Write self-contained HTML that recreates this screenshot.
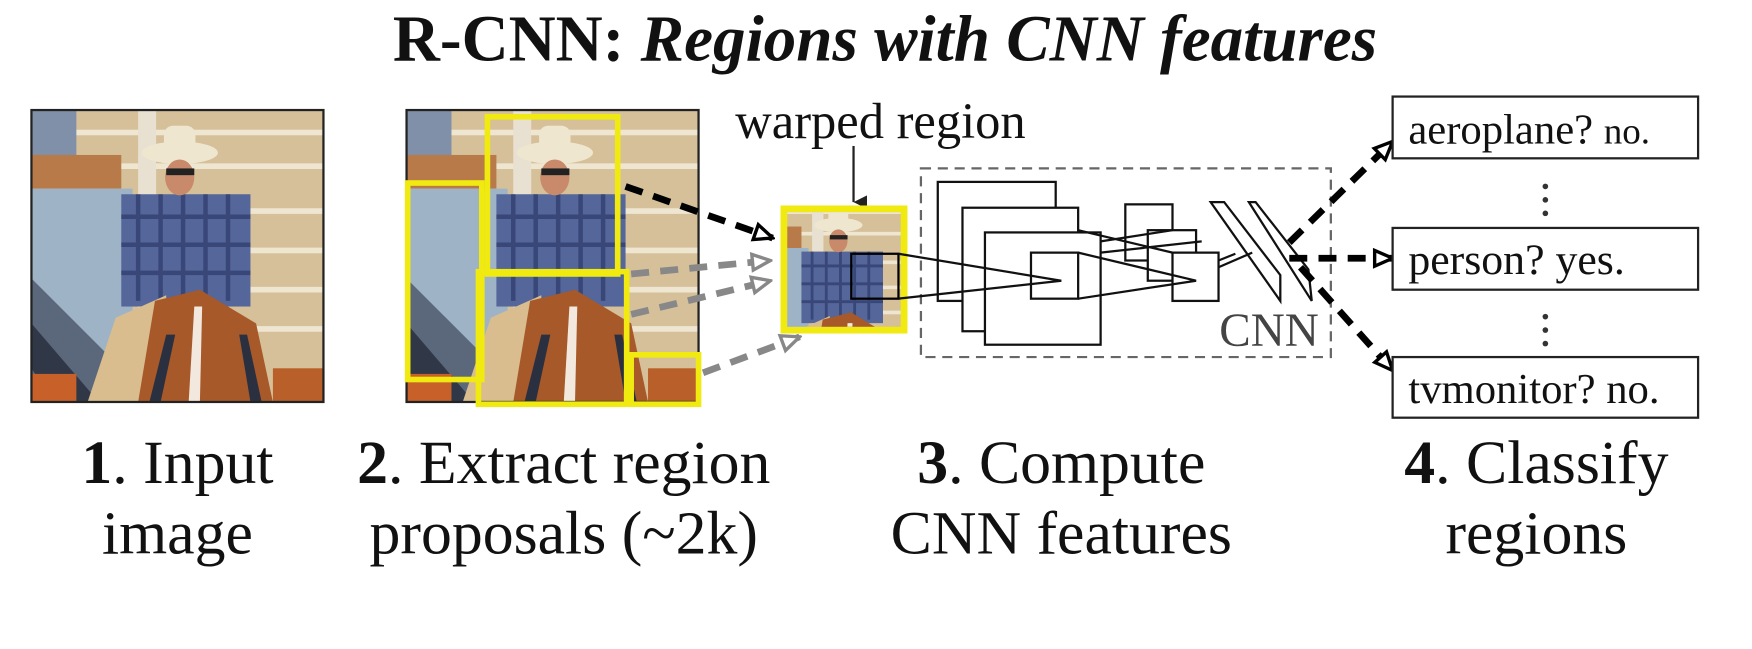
<!DOCTYPE html>
<html><head><meta charset="utf-8"><style>
html,body{margin:0;padding:0;background:#fff;}
svg{display:block;}
text{font-family:"Liberation Serif",serif;fill:#111;}
</style></head><body>
<svg width="1752" height="649" viewBox="0 0 1560 578" preserveAspectRatio="none" xmlns="http://www.w3.org/2000/svg">
<defs>
<symbol id="photo" viewBox="0 0 260 260" preserveAspectRatio="none">
  <rect width="260" height="260" fill="#d6c09a"/>
  <g stroke="#efe6d2" stroke-width="5">
    <line x1="0" y1="20" x2="260" y2="20"/><line x1="0" y1="50" x2="260" y2="50"/>
    <line x1="150" y1="90" x2="260" y2="90"/><line x1="150" y1="125" x2="260" y2="125"/>
    <line x1="150" y1="160" x2="260" y2="160"/><line x1="150" y1="195" x2="260" y2="195"/>
  </g>
  <rect x="0" y="0" width="40" height="50" fill="#8090a8"/>
  <rect x="0" y="40" width="80" height="30" fill="#b87a48"/>
  <rect x="95" y="0" width="16" height="260" fill="#e8e0d0"/>
  <rect x="0" y="70" width="90" height="190" fill="#9eb3c6"/>
  <path d="M0,150 L90,240 L90,260 L0,260 Z" fill="#4a5468" opacity="0.8"/>
  <path d="M0,190 L60,260 L20,260 L0,230 Z" fill="#303848"/>
  <rect x="80" y="75" width="115" height="100" fill="#55669a"/>
  <g stroke="#2c3a6a" stroke-width="4" opacity="0.7">
    <line x1="95" y1="75" x2="95" y2="170"/><line x1="115" y1="75" x2="115" y2="170"/>
    <line x1="135" y1="75" x2="135" y2="170"/><line x1="155" y1="75" x2="155" y2="170"/>
    <line x1="175" y1="75" x2="175" y2="170"/>
    <line x1="80" y1="95" x2="195" y2="95"/><line x1="80" y1="120" x2="195" y2="120"/>
    <line x1="80" y1="145" x2="195" y2="145"/>
  </g>
  <ellipse cx="132" cy="38" rx="34" ry="10" fill="#efe6d0"/>
  <rect x="118" y="14" width="28" height="24" rx="8" fill="#efe6d0"/>
  <ellipse cx="132" cy="60" rx="13" ry="16" fill="#c88a6a"/>
  <rect x="120" y="52" width="25" height="6" fill="#222"/>
  <path d="M50,260 L75,185 L120,165 L120,260 Z" fill="#d9bd8f"/>
  <path d="M95,260 L110,170 L150,160 L200,190 L215,260 Z" fill="#a7592a"/>
  <path d="M145,175 L152,175 L150,260 L140,260 Z" fill="#f2e8de"/>
  <path d="M105,260 L120,200 L128,200 L115,260 Z" fill="#2a3040"/>
  <path d="M195,260 L185,200 L192,200 L205,260 Z" fill="#2a3040"/>
  <rect x="0" y="235" width="40" height="25" fill="#c8602a"/>
  <rect x="215" y="230" width="45" height="30" fill="#b9602a"/>
</symbol>
<marker id="ah" viewBox="0 0 20 20" refX="18" refY="10" markerWidth="20" markerHeight="20" markerUnits="userSpaceOnUse" orient="auto">
  <path d="M2,3 L18,10 L2,17 Z" fill="#fff" stroke="#000" stroke-width="3"/>
</marker>
<marker id="ahg" viewBox="0 0 20 20" refX="18" refY="10" markerWidth="20" markerHeight="20" markerUnits="userSpaceOnUse" orient="auto">
  <path d="M2,3 L18,10 L2,17 Z" fill="#fff" stroke="#888" stroke-width="3"/>
</marker>
<marker id="ahs" viewBox="0 0 10 10" refX="5" refY="10" markerWidth="12" markerHeight="12" markerUnits="userSpaceOnUse" orient="auto-start-reverse">
  <path d="M0,0 L10,0 L5,10 Z" fill="#222"/>
</marker>
</defs>

<text x="788" y="54" font-size="58" font-weight="bold" text-anchor="middle">R-CNN: <tspan font-style="italic">Regions with CNN features</tspan></text>

<use href="#photo" x="28" y="98" width="260" height="260"/>
<rect x="28" y="98" width="260" height="260" fill="none" stroke="#222" stroke-width="2"/>

<use href="#photo" x="362" y="98" width="260" height="260"/>
<rect x="362" y="98" width="260" height="260" fill="none" stroke="#222" stroke-width="2"/>
<g fill="none" stroke="#f0ea10" stroke-width="5">
  <rect x="434" y="104" width="116" height="140"/>
  <rect x="363" y="163" width="66" height="175"/>
  <rect x="426" y="242" width="132" height="118"/>
  <rect x="562" y="316" width="60" height="44"/>
</g>

<line x1="557" y1="166" x2="688" y2="212" stroke="#000" stroke-width="6" stroke-dasharray="16,10" marker-end="url(#ah)"/>
<line x1="562" y1="244" x2="686" y2="232" stroke="#888" stroke-width="6" stroke-dasharray="16,10" marker-end="url(#ahg)"/>
<line x1="562" y1="280" x2="686" y2="250" stroke="#888" stroke-width="6" stroke-dasharray="16,10" marker-end="url(#ahg)"/>
<line x1="626" y1="332" x2="712" y2="300" stroke="#888" stroke-width="6" stroke-dasharray="16,10" marker-end="url(#ahg)"/>

<text x="784" y="123" font-size="45" text-anchor="middle">warped region</text>
<line x1="760" y1="130" x2="760" y2="180" stroke="#222" stroke-width="2" marker-end="url(#ahs)"/>
<rect x="695" y="183" width="113" height="114" fill="#f0ea10"/>
<svg x="701" y="189" width="101" height="102" viewBox="60 20 160 160" preserveAspectRatio="none"><use href="#photo" x="0" y="0" width="260" height="260"/></svg>
<rect x="758" y="226" width="42" height="40" fill="none" stroke="#000" stroke-width="2"/>

<rect x="820" y="150" width="365" height="168" fill="none" stroke="#666" stroke-width="2" stroke-dasharray="9,6"/>
<g fill="#fff" stroke="#111" stroke-width="2">
  <rect x="835" y="162" width="105" height="106"/>
  <rect x="857" y="185" width="103" height="110"/>
  <rect x="877" y="207" width="103" height="100"/>
  <rect x="918" y="225" width="42" height="41"/>
  <rect x="1002" y="182" width="42" height="50"/>
  <rect x="1022" y="205" width="43" height="45"/>
  <rect x="1044" y="225" width="41" height="43"/>
</g>
<g fill="none" stroke="#111" stroke-width="2">
  <path d="M800,226 L945,250 L800,266"/>
  <path d="M960,225 L1065,250 L960,266"/>
  <path d="M960,205 L1044,225 M980,215 L1044,205 M980,225 L1070,215"/>
  <path d="M1085,238 L1115,225 M1085,232 L1100,226"/>
  <path d="M1078,180 L1090,180 L1140,245 L1140,268 Z"/>
  <path d="M1112,180 L1118,180 L1165,240 L1168,268 Z"/>
</g>
<text x="1130" y="308" font-size="42" text-anchor="middle" style="fill:#444">CNN</text>

<line x1="1148" y1="216" x2="1240" y2="126" stroke="#000" stroke-width="6" stroke-dasharray="16,10" marker-end="url(#ah)"/>
<line x1="1148" y1="230" x2="1240" y2="230" stroke="#000" stroke-width="6" stroke-dasharray="16,10" marker-end="url(#ah)"/>
<line x1="1158" y1="238" x2="1240" y2="330" stroke="#000" stroke-width="6" stroke-dasharray="16,10" marker-end="url(#ah)"/>

<g fill="#fff" stroke="#222" stroke-width="2">
  <rect x="1240" y="86" width="272" height="55"/>
  <rect x="1240" y="203" width="272" height="55"/>
  <rect x="1240" y="318" width="272" height="54"/>
</g>
<text x="1254" y="128" font-size="38">aeroplane? <tspan font-size="33">no.</tspan></text>
<text x="1254" y="244" font-size="39">person? yes.</text>
<text x="1254" y="359" font-size="38">tvmonitor? no.</text>
<g fill="#333">
  <circle cx="1376" cy="166" r="2.5"/><circle cx="1376" cy="178" r="2.5"/><circle cx="1376" cy="190" r="2.5"/>
  <circle cx="1376" cy="282" r="2.5"/><circle cx="1376" cy="294" r="2.5"/><circle cx="1376" cy="306" r="2.5"/>
</g>

<g font-size="55" text-anchor="middle">
  <text x="158" y="430"><tspan font-weight="bold">1</tspan>. Input</text>
  <text x="158" y="493">image</text>
  <text x="502" y="430"><tspan font-weight="bold">2</tspan>. Extract region</text>
  <text x="502" y="493">proposals (~2k)</text>
  <text x="945" y="430"><tspan font-weight="bold">3</tspan>. Compute</text>
  <text x="945" y="493">CNN features</text>
  <text x="1368" y="430"><tspan font-weight="bold">4</tspan>. Classify</text>
  <text x="1368" y="493">regions</text>
</g>
</svg>
</body></html>
